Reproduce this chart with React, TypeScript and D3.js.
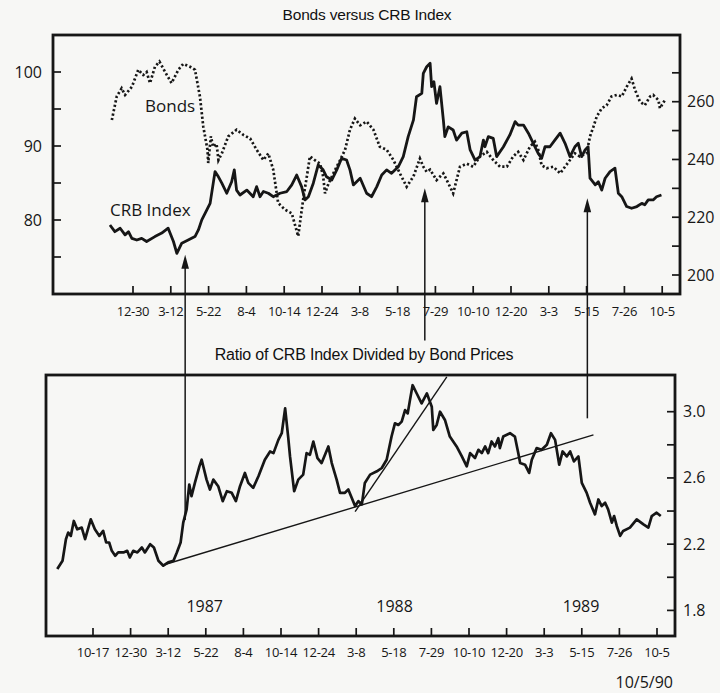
import React from "react";
import * as d3 from "d3";

// ---------- DATA ----------
// x positions are in "tick periods" (0 = 10-17 tick, 15 = 10-5 tick)
const topTickLabels = ["12-30","3-12","5-22","8-4","10-14","12-24","3-8","5-18","7-29","10-10","12-20","3-3","5-15","7-26","10-5"];
const bottomTickLabels = ["10-17","12-30","3-12","5-22","8-4","10-14","12-24","3-8","5-18","7-29","10-10","12-20","3-3","5-15","7-26","10-5"];
const bondTicks = [75, 80, 85, 90, 95, 100];
const bondLabels = [80, 90, 100];
const crbTicks = [200, 210, 220, 230, 240, 250, 260, 270];
const crbLabels = [200, 220, 240, 260];
const ratioTicks = [1.8, 2.0, 2.2, 2.4, 2.6, 2.8, 3.0];
const ratioLabels = [1.8, 2.2, 2.6, 3.0];
const yearLabels = ["1987", "1988", "1989"];
const yearPos = [2.97, 8.02, 12.98];

const bondsT = [0.44,0.57,0.70,0.79,0.97,1.14,1.27,1.36,1.45,1.58,1.70,1.85,2.02,2.20,2.33,2.51,2.64,2.77,2.86,2.97,2.99,3.06,3.12,3.21,3.26,3.35,3.52,3.74,3.92,4.10,4.27,4.45,4.58,4.71,4.84,5.02,5.20,5.37,5.51,5.60,5.68,5.81,5.95,6.03,6.08,6.17,6.30,6.48,6.61,6.74,6.87,7.01,7.18,7.36,7.53,7.71,7.89,8.06,8.24,8.42,8.59,8.68,8.77,8.86,9.03,9.21,9.30,9.47,9.65,9.83,10.00,10.18,10.36,10.53,10.71,10.89,11.06,11.19,11.33,11.50,11.63,11.72,11.81,11.94,12.12,12.30,12.43,12.56,12.69,12.82,13.00,13.09,13.18,13.27,13.40,13.53,13.66,13.80,13.93,14.06,14.19,14.28,14.41,14.54,14.68,14.76,14.90,14.94,15.07];
const bondsV = [93.5,96.7,97.8,96.9,98.0,100.3,99.6,100.0,98.5,100.7,101.4,100.0,98.5,100.3,101.1,100.7,100.3,96.7,92.6,89.5,87.7,91.3,89.9,90.3,88.1,89.0,91.3,92.2,91.5,91.0,89.5,88.1,89.0,86.8,82.3,81.4,80.9,77.8,83.1,85.9,88.6,88.1,87.6,85.9,83.6,84.9,86.3,88.1,89.5,92.2,93.7,92.8,93.3,92.2,89.9,89.5,88.1,86.3,84.5,85.9,88.3,87.2,86.5,86.8,85.4,86.3,85.4,83.6,87.2,87.6,87.2,88.6,89.2,88.1,87.2,87.2,88.6,89.2,88.1,89.9,90.6,89.5,87.4,87.0,87.2,86.3,87.2,88.1,89.0,88.6,89.0,91.3,92.6,94.0,95.1,95.5,96.7,96.9,96.7,98.0,99.1,97.6,96.0,95.5,96.7,96.9,96.2,95.1,96.2];

const crbT = [0.39,0.52,0.66,0.79,0.88,0.97,1.10,1.23,1.36,1.58,1.76,1.93,2.07,2.16,2.29,2.46,2.64,2.73,2.82,2.95,3.04,3.17,3.26,3.35,3.48,3.61,3.68,3.74,3.83,4.01,4.18,4.27,4.36,4.45,4.58,4.71,4.89,5.07,5.20,5.33,5.46,5.55,5.64,5.77,5.90,6.03,6.12,6.26,6.39,6.52,6.65,6.74,6.83,7.01,7.18,7.31,7.45,7.58,7.71,7.84,8.02,8.15,8.28,8.42,8.50,8.64,8.68,8.77,8.86,8.90,8.96,9.03,9.12,9.21,9.25,9.34,9.47,9.56,9.70,9.83,9.92,10.05,10.18,10.27,10.31,10.40,10.53,10.62,10.80,10.97,11.11,11.19,11.33,11.46,11.59,11.72,11.81,11.90,12.03,12.16,12.30,12.43,12.56,12.69,12.78,12.87,12.96,13.04,13.09,13.23,13.31,13.40,13.49,13.62,13.75,13.84,13.93,14.06,14.19,14.33,14.46,14.54,14.63,14.76,14.85,14.98];
const crbV = [217.3,215.0,216.2,213.9,215.0,212.7,212.1,212.7,211.6,213.3,214.5,216.2,211.6,207.5,211.0,212.1,213.3,215.6,219.1,222.5,224.8,235.8,234.0,231.8,228.3,232.3,236.4,229.4,227.7,229.4,227.1,230.6,227.1,228.9,228.3,227.1,228.3,228.9,231.2,234.6,230.6,226.0,227.1,231.8,238.1,236.4,234.0,232.9,236.4,240.4,239.8,236.4,231.2,233.5,228.3,227.1,230.6,234.6,236.4,235.2,237.5,241.0,247.9,253.7,261.7,262.9,269.8,272.1,273.3,265.2,266.9,259.4,265.2,253.7,247.9,251.3,250.2,246.7,249.1,249.6,243.3,239.8,241.0,246.7,244.4,247.9,247.3,241.0,244.4,248.5,253.1,251.9,251.9,249.1,245.6,242.1,240.4,244.4,244.4,246.7,249.1,245.6,241.0,244.4,245.6,241.0,243.3,244.4,233.5,231.2,232.3,229.4,233.5,235.8,237.0,228.3,227.1,223.7,223.1,223.7,224.8,224.3,226.0,226.0,227.1,227.7];

const ratioT = [-0.95,-0.81,-0.72,-0.66,-0.59,-0.51,-0.42,-0.30,-0.21,-0.06,0.05,0.17,0.27,0.35,0.43,0.50,0.59,0.67,0.81,0.91,0.98,1.07,1.18,1.30,1.38,1.52,1.62,1.74,1.87,2.00,2.14,2.23,2.33,2.40,2.49,2.56,2.62,2.71,2.83,2.89,3.02,3.11,3.20,3.33,3.45,3.56,3.69,3.80,3.91,4.04,4.13,4.26,4.40,4.57,4.71,4.80,4.93,5.02,5.11,5.19,5.24,5.35,5.46,5.59,5.68,5.77,5.86,5.97,6.08,6.26,6.35,6.48,6.57,6.70,6.79,6.88,6.97,7.06,7.15,7.23,7.37,7.55,7.68,7.81,7.94,8.03,8.12,8.21,8.30,8.37,8.43,8.50,8.61,8.74,8.88,9.01,9.05,9.14,9.23,9.36,9.49,9.67,9.81,9.94,10.03,10.16,10.25,10.34,10.43,10.51,10.60,10.69,10.78,10.82,10.91,11.09,11.22,11.31,11.36,11.49,11.60,11.67,11.80,11.93,12.07,12.18,12.29,12.40,12.49,12.60,12.69,12.79,12.91,13.00,13.13,13.22,13.35,13.44,13.53,13.62,13.70,13.80,13.86,13.93,14.02,14.10,14.28,14.46,14.64,14.77,14.86,14.99,15.10];
const ratioV = [2.05,2.10,2.23,2.27,2.25,2.34,2.29,2.30,2.23,2.35,2.29,2.25,2.28,2.21,2.21,2.16,2.13,2.15,2.15,2.16,2.12,2.16,2.15,2.18,2.15,2.20,2.18,2.10,2.07,2.09,2.10,2.15,2.21,2.33,2.41,2.56,2.49,2.57,2.67,2.71,2.59,2.53,2.59,2.55,2.46,2.52,2.51,2.46,2.55,2.63,2.57,2.54,2.61,2.71,2.76,2.75,2.83,2.87,3.02,2.85,2.73,2.52,2.59,2.62,2.75,2.74,2.82,2.72,2.69,2.79,2.69,2.59,2.51,2.51,2.53,2.48,2.43,2.46,2.44,2.57,2.62,2.64,2.66,2.71,2.85,2.93,2.92,2.94,3.01,2.99,3.07,3.16,3.11,3.05,3.11,3.03,2.89,2.92,3.00,2.95,2.85,2.79,2.73,2.67,2.75,2.72,2.77,2.75,2.79,2.75,2.82,2.79,2.84,2.78,2.85,2.87,2.85,2.75,2.69,2.68,2.63,2.71,2.78,2.77,2.80,2.87,2.83,2.68,2.76,2.73,2.76,2.70,2.73,2.57,2.51,2.45,2.38,2.47,2.43,2.45,2.41,2.33,2.37,2.31,2.25,2.28,2.30,2.35,2.32,2.30,2.37,2.39,2.37];

// trend lines on the ratio: [t1, v1, t2, v2]
const trendLines = [
  [1.87, 2.074, 13.31, 2.86],
  [6.97, 2.396, 9.41, 3.21],
];
// arrows: position (tick periods), tip on CRB scale, lower end on ratio scale
const arrowT = [2.38, 8.72, 13.02];
const arrowTipCrb = [207, 230, 226.6];
const arrowEndRatio = [2.346, 3.43, 2.96];

// ---------- LAYOUT ----------
const W = 720, H = 693;
const INK = "#161616";
const TOP = { l: 53, r: 680, t: 35, b: 294 };
const BOT = { l: 46, r: 675, t: 375, b: 636 };

const xTop = d3.scaleLinear().domain([0, 15]).range([95.2, 95.2 + 15 * 37.8]);
const yBond = d3.scaleLinear().domain([70, 105]).range([294, 35]);
const yCrb = d3.scaleLinear().domain([200, 260]).range([275, 101.7]);
const xBot = d3.scaleLinear().domain([0, 15]).range([93, 657]);
const yRatio = d3.scaleLinear().domain([1.8, 3.0]).range([610.4, 411.7]);

const lineTop = (ys: d3.ScaleLinear<number, number>) =>
  d3.line<[number, number]>().x(d => xTop(d[0])).y(d => ys(d[1]));
const lineBot = d3.line<[number, number]>().x(d => xBot(d[0])).y(d => yRatio(d[1]));

const bondsPath = lineTop(yBond)(d3.zip(bondsT, bondsV) as [number, number][]) || "";
const crbPath = lineTop(yCrb)(d3.zip(crbT, crbV) as [number, number][]) || "";
const ratioPath = lineBot(d3.zip(ratioT, ratioV) as [number, number][]) || "";

const SANS = "'Open Sans', 'DejaVu Sans', sans-serif";
const ARIAL = "'Liberation Sans', Arial, sans-serif";

export default function App() {
  const tickLen = 8;
  return (
    <svg width={W} height={H} viewBox={`0 0 ${W} ${H}`}
      style={{ position: "absolute", left: 0, top: 0, display: "block" }}>
      <rect x={0} y={0} width={W} height={H} fill="#f7f7f5" />

      {/* Titles */}
      <text x={367} y={20} textAnchor="middle" fontFamily={ARIAL} fontSize={15.5} letterSpacing={-0.2} fill="#111">Bonds versus CRB Index</text>
      <text x={364} y={360} textAnchor="middle" fontFamily={ARIAL} fontSize={16} letterSpacing={-0.2} fill="#111">Ratio of CRB Index Divided by Bond Prices</text>

      {/* ---------- Top panel ---------- */}
      <rect x={TOP.l} y={TOP.t} width={TOP.r - TOP.l} height={TOP.b - TOP.t}
        fill="none" stroke={INK} strokeWidth={2.8} />
      {bondTicks.map(v => (
        <line key={"bt" + v} x1={TOP.l} x2={TOP.l + tickLen} y1={yBond(v)} y2={yBond(v)} stroke={INK} strokeWidth={1.7} />
      ))}
      {bondLabels.map(v => (
        <text key={"bl" + v} x={42} y={yBond(v) + 5.5} textAnchor="end" fontFamily={SANS} fontWeight={500} fontSize={16} fill={INK}>{v}</text>
      ))}
      {crbTicks.map(v => (
        <line key={"ct" + v} x1={TOP.r - tickLen} x2={TOP.r} y1={yCrb(v)} y2={yCrb(v)} stroke={INK} strokeWidth={1.7} />
      ))}
      {crbLabels.map(v => (
        <text key={"cl" + v} x={687} y={yCrb(v) + 5.5} textAnchor="start" fontFamily={SANS} fontWeight={500} fontSize={16} fill={INK}>{v}</text>
      ))}
      {topTickLabels.map((lab, i) => (
        <g key={"tx" + i}>
          <line x1={xTop(i + 1)} x2={xTop(i + 1)} y1={TOP.b} y2={TOP.b - tickLen} stroke={INK} strokeWidth={1.7} />
          <text x={xTop(i + 1)} y={316} textAnchor="middle" fontFamily={SANS} fontWeight={500} fontSize={13} letterSpacing={-0.3} fill={INK}>{lab}</text>
        </g>
      ))}

      <path d={bondsPath} fill="none" stroke={INK} strokeWidth={2.7} strokeDasharray="2.2 2.3" />
      <path d={crbPath} fill="none" stroke={INK} strokeWidth={2.8} strokeLinejoin="round" />

      <text x={145} y={112} fontFamily={SANS} fontWeight={500} fontSize={17} fill={INK}>Bonds</text>
      <text x={110} y={216} fontFamily={SANS} fontWeight={500} fontSize={17} fill={INK}>CRB Index</text>

      {/* arrows */}
      {arrowT.map((t, i) => {
        const x = xTop(t);
        const tip = yCrb(arrowTipCrb[i]);
        const end = yRatio(arrowEndRatio[i]);
        return (
          <g key={"ar" + i}>
            <line x1={x} x2={x} y1={tip + 10} y2={end} stroke={INK} strokeWidth={1.5} />
            <path d={`M${x},${tip} L${x - 3.8},${tip + 14} L${x + 3.8},${tip + 14} Z`} fill={INK} />
          </g>
        );
      })}

      {/* ---------- Bottom panel ---------- */}
      <rect x={BOT.l} y={BOT.t} width={BOT.r - BOT.l} height={BOT.b - BOT.t}
        fill="none" stroke={INK} strokeWidth={2.8} />
      {ratioTicks.map(v => (
        <line key={"rt" + v} x1={BOT.r - tickLen} x2={BOT.r} y1={yRatio(v)} y2={yRatio(v)} stroke={INK} strokeWidth={1.7} />
      ))}
      {ratioLabels.map(v => (
        <text key={"rl" + v} x={683} y={yRatio(v) + 5.5} textAnchor="start" fontFamily={SANS} fontWeight={500} fontSize={16} fill={INK}>{v.toFixed(1)}</text>
      ))}
      {bottomTickLabels.map((lab, i) => (
        <g key={"bx" + i}>
          <line x1={xBot(i)} x2={xBot(i)} y1={BOT.b} y2={BOT.b - tickLen} stroke={INK} strokeWidth={1.7} />
          <text x={xBot(i)} y={657} textAnchor="middle" fontFamily={SANS} fontWeight={500} fontSize={13} letterSpacing={-0.3} fill={INK}>{lab}</text>
        </g>
      ))}
      {yearLabels.map((y, i) => (
        <text key={"yr" + y} x={xBot(yearPos[i])} y={612} textAnchor="middle" fontFamily={SANS} fontWeight={500} fontSize={16} fill={INK}>{y}</text>
      ))}
      <text x={673} y={688} textAnchor="end" fontFamily={SANS} fontWeight={500} fontSize={16} fill={INK}>10/5/90</text>

      {trendLines.map((l, i) => (
        <line key={"tl" + i} x1={xBot(l[0])} y1={yRatio(l[1])} x2={xBot(l[2])} y2={yRatio(l[3])} stroke={INK} strokeWidth={1.4} />
      ))}
      <path d={ratioPath} fill="none" stroke={INK} strokeWidth={2.7} strokeLinejoin="round" />
    </svg>
  );
}
